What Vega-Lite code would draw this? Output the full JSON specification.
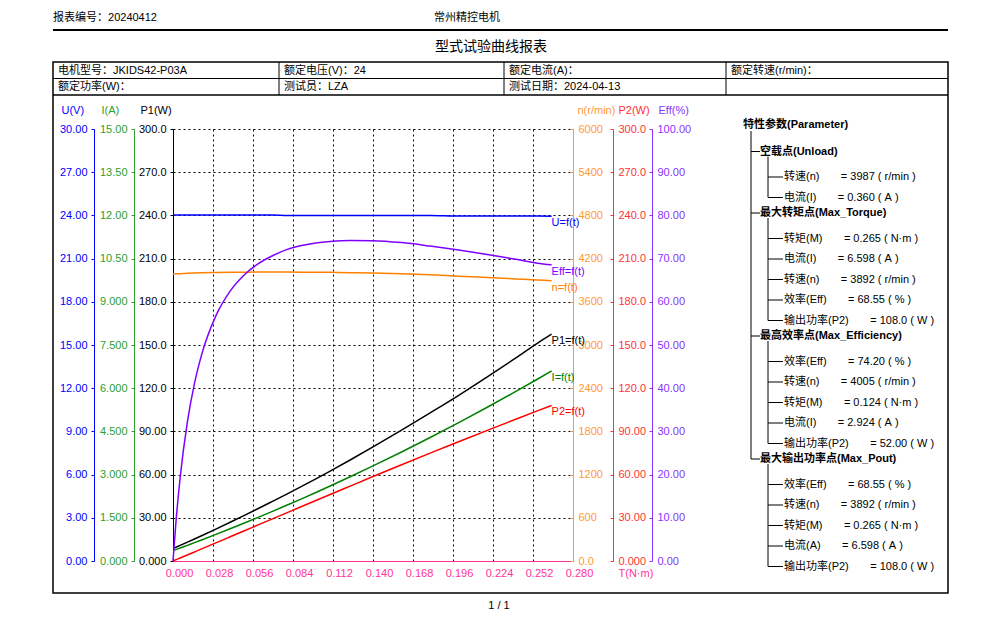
{
  "$schema": "https://vega.github.io/schema/vega-lite/v6.json",
  "width": 400,
  "height": 432,
  "autosize": {"type": "none"},
  "padding": {"left": 173, "top": 129, "right": 427, "bottom": 66},
  "background": "#ffffff",
  "config": {
    "view": {"stroke": null},
    "font": "'Liberation Sans', 'Noto Sans CJK SC', sans-serif",
    "axis": {"labelFont": "'Liberation Sans', 'Noto Sans CJK SC', sans-serif", "titleFont": "'Liberation Sans', 'Noto Sans CJK SC', sans-serif", "labelFontSize": 11, "titleFontSize": 11, "titleFontWeight": "normal", "labelOverlap": false, "labelFlush": false, "labelBound": false, "domainWidth": 1, "tickWidth": 1},
    "text": {"font": "'Liberation Sans', 'Noto Sans CJK SC', sans-serif", "fontSize": 11},
    "line": {"strokeWidth": 1.5, "interpolate": "monotone"}
  },
  "datasets": {
    "header": [
      {"slot": 1, "line": 1, "kind": "hdr", "text": "报表编号：20240412"},
      {"slot": 2, "line": 1, "kind": "hdr", "text": "常州精控电机"},
      {"slot": 3, "line": 2, "kind": "title", "text": "型式试验曲线报表"},
      {"slot": 4, "line": 3, "kind": "hdr", "text": "1 / 1"}
    ],
    "table": [
      {"row": 1, "col": 1, "text": "电机型号：JKIDS42-P03A"},
      {"row": 1, "col": 2, "text": "额定电压(V)：24"},
      {"row": 1, "col": 3, "text": "额定电流(A)："},
      {"row": 1, "col": 4, "text": "额定转速(r/min)："},
      {"row": 2, "col": 1, "text": "额定功率(W)："},
      {"row": 2, "col": 2, "text": "测试员：LZA"},
      {"row": 2, "col": 3, "text": "测试日期：2024-04-13"},
      {"row": 2, "col": 4, "text": ""}
    ],
    "tree": [
      {"idx": 0, "level": 0, "grp": "root", "text": "特性参数(Parameter)"},
      {"idx": 1, "level": 1, "grp": "g1", "text": "空载点(Unload)"},
      {"idx": 2, "level": 2, "grp": "g1", "text": "转速(n)\u00a0\u00a0\u00a0\u00a0\u00a0\u00a0\u00a0=\u00a03987\u00a0(\u00a0r/min\u00a0)"},
      {"idx": 3, "level": 2, "grp": "g1", "text": "电流(I)\u00a0\u00a0\u00a0\u00a0\u00a0\u00a0\u00a0=\u00a00.360\u00a0(\u00a0A\u00a0)"},
      {"idx": 4, "level": 1, "grp": "g2", "text": "最大转矩点(Max_Torque)"},
      {"idx": 5, "level": 2, "grp": "g2", "text": "转矩(M)\u00a0\u00a0\u00a0\u00a0\u00a0\u00a0\u00a0=\u00a00.265\u00a0(\u00a0N·m\u00a0)"},
      {"idx": 6, "level": 2, "grp": "g2", "text": "电流(I)\u00a0\u00a0\u00a0\u00a0\u00a0\u00a0\u00a0=\u00a06.598\u00a0(\u00a0A\u00a0)"},
      {"idx": 7, "level": 2, "grp": "g2", "text": "转速(n)\u00a0\u00a0\u00a0\u00a0\u00a0\u00a0\u00a0=\u00a03892\u00a0(\u00a0r/min\u00a0)"},
      {"idx": 8, "level": 2, "grp": "g2", "text": "效率(Eff)\u00a0\u00a0\u00a0\u00a0\u00a0\u00a0\u00a0=\u00a068.55\u00a0(\u00a0%\u00a0)"},
      {"idx": 9, "level": 2, "grp": "g2", "text": "输出功率(P2)\u00a0\u00a0\u00a0\u00a0\u00a0\u00a0\u00a0=\u00a0108.0\u00a0(\u00a0W\u00a0)"},
      {"idx": 10, "level": 1, "grp": "g3", "text": "最高效率点(Max_Efficiency)"},
      {"idx": 11, "level": 2, "grp": "g3", "text": "效率(Eff)\u00a0\u00a0\u00a0\u00a0\u00a0\u00a0\u00a0=\u00a074.20\u00a0(\u00a0%\u00a0)"},
      {"idx": 12, "level": 2, "grp": "g3", "text": "转速(n)\u00a0\u00a0\u00a0\u00a0\u00a0\u00a0\u00a0=\u00a04005\u00a0(\u00a0r/min\u00a0)"},
      {"idx": 13, "level": 2, "grp": "g3", "text": "转矩(M)\u00a0\u00a0\u00a0\u00a0\u00a0\u00a0\u00a0=\u00a00.124\u00a0(\u00a0N·m\u00a0)"},
      {"idx": 14, "level": 2, "grp": "g3", "text": "电流(I)\u00a0\u00a0\u00a0\u00a0\u00a0\u00a0\u00a0=\u00a02.924\u00a0(\u00a0A\u00a0)"},
      {"idx": 15, "level": 2, "grp": "g3", "text": "输出功率(P2)\u00a0\u00a0\u00a0\u00a0\u00a0\u00a0\u00a0=\u00a052.00\u00a0(\u00a0W\u00a0)"},
      {"idx": 16, "level": 1, "grp": "g4", "text": "最大输出功率点(Max_Pout)"},
      {"idx": 17, "level": 2, "grp": "g4", "text": "效率(Eff)\u00a0\u00a0\u00a0\u00a0\u00a0\u00a0\u00a0=\u00a068.55\u00a0(\u00a0%\u00a0)"},
      {"idx": 18, "level": 2, "grp": "g4", "text": "转速(n)\u00a0\u00a0\u00a0\u00a0\u00a0\u00a0\u00a0=\u00a03892\u00a0(\u00a0r/min\u00a0)"},
      {"idx": 19, "level": 2, "grp": "g4", "text": "转矩(M)\u00a0\u00a0\u00a0\u00a0\u00a0\u00a0\u00a0=\u00a00.265\u00a0(\u00a0N·m\u00a0)"},
      {"idx": 20, "level": 2, "grp": "g4", "text": "电流(A)\u00a0\u00a0\u00a0\u00a0\u00a0\u00a0\u00a0=\u00a06.598\u00a0(\u00a0A\u00a0)"},
      {"idx": 21, "level": 2, "grp": "g4", "text": "输出功率(P2)\u00a0\u00a0\u00a0\u00a0\u00a0\u00a0\u00a0=\u00a0108.0\u00a0(\u00a0W\u00a0)"}
    ],
    "curve": [
      {"T": 0, "U": 24.03, "I": 0.360, "P1": 8.65, "n": 3987, "P2": 0, "Eff": 0},
      {"T": 0.002, "U": 24.03, "I": 0.396, "P1": 9.52, "n": 3989, "P2": 0.835, "Eff": 8.77},
      {"T": 0.005, "U": 24.03, "I": 0.451, "P1": 10.84, "n": 3991, "P2": 2.09, "Eff": 19.28},
      {"T": 0.01, "U": 24.03, "I": 0.544, "P1": 13.07, "n": 3996, "P2": 4.185, "Eff": 32.02},
      {"T": 0.015, "U": 24.03, "I": 0.637, "P1": 15.31, "n": 4000, "P2": 6.283, "Eff": 41.04},
      {"T": 0.02, "U": 24.03, "I": 0.731, "P1": 17.57, "n": 4003, "P2": 8.384, "Eff": 47.72},
      {"T": 0.03, "U": 24.03, "I": 0.923, "P1": 22.18, "n": 4007, "P2": 12.59, "Eff": 56.75},
      {"T": 0.04, "U": 24.03, "I": 1.119, "P1": 26.89, "n": 4010, "P2": 16.8, "Eff": 62.47},
      {"T": 0.05, "U": 24.03, "I": 1.319, "P1": 31.7, "n": 4012, "P2": 21.01, "Eff": 66.27},
      {"T": 0.06, "U": 24.03, "I": 1.523, "P1": 36.6, "n": 4013, "P2": 25.22, "Eff": 68.89},
      {"T": 0.07, "U": 24.03, "I": 1.731, "P1": 41.6, "n": 4013, "P2": 29.42, "Eff": 70.71},
      {"T": 0.08, "U": 23.99, "I": 1.943, "P1": 46.61, "n": 4013, "P2": 33.62, "Eff": 72.13},
      {"T": 0.09, "U": 23.99, "I": 2.159, "P1": 51.79, "n": 4012, "P2": 37.81, "Eff": 73.01},
      {"T": 0.1, "U": 23.99, "I": 2.379, "P1": 57.07, "n": 4011, "P2": 42.0, "Eff": 73.6},
      {"T": 0.11, "U": 23.99, "I": 2.603, "P1": 62.45, "n": 4009, "P2": 46.18, "Eff": 73.95},
      {"T": 0.124, "U": 23.99, "I": 2.924, "P1": 70.15, "n": 4005, "P2": 52.0, "Eff": 74.2},
      {"T": 0.14, "U": 23.99, "I": 3.301, "P1": 79.19, "n": 4000, "P2": 58.64, "Eff": 74.15},
      {"T": 0.16, "U": 23.99, "I": 3.786, "P1": 90.83, "n": 3990, "P2": 66.85, "Eff": 73.7},
      {"T": 0.18, "U": 23.99, "I": 4.287, "P1": 102.85, "n": 3974, "P2": 74.91, "Eff": 72.9},
      {"T": 0.2, "U": 23.95, "I": 4.804, "P1": 115.06, "n": 3955, "P2": 82.83, "Eff": 71.99},
      {"T": 0.22, "U": 23.95, "I": 5.338, "P1": 127.85, "n": 3938, "P2": 90.73, "Eff": 70.96},
      {"T": 0.24, "U": 23.95, "I": 5.888, "P1": 141.02, "n": 3918, "P2": 98.47, "Eff": 69.83},
      {"T": 0.255, "U": 23.95, "I": 6.311, "P1": 151.15, "n": 3903, "P2": 104.22, "Eff": 68.95},
      {"T": 0.265, "U": 23.94, "I": 6.598, "P1": 157.5, "n": 3892, "P2": 108.0, "Eff": 68.55}
    ]
  },
  "resolve": {"scale": {"x": "independent", "y": "independent"}, "axis": {"x": "independent", "y": "independent"}},
  "layer": [
    {
      "data": {"name": "header"},
      "layer": [
        {
          "transform": [{"filter": "datum.kind == 'hdr'"}],
          "mark": {"type": "text", "fontSize": 11, "align": "center", "baseline": "middle", "color": "#000000"},
          "encoding": {
            "x": {"field": "slot", "type": "quantitative", "scale": {"domain": [0, 1, 2, 3, 4, 5], "range": [-120, -68, 294, 318, 326, 775], "nice": false, "zero": false}, "axis": null},
            "y": {"field": "line", "type": "quantitative", "scale": {"domain": [1, 2, 3], "range": [-111, -82, 477], "nice": false, "zero": false}, "axis": null},
            "text": {"field": "text"}
          }
        },
        {
          "transform": [{"filter": "datum.kind == 'title'"}],
          "mark": {"type": "text", "fontSize": 14, "align": "center", "baseline": "middle", "color": "#000000"},
          "encoding": {
            "x": {"field": "slot", "type": "quantitative", "scale": {"domain": [0, 1, 2, 3, 4, 5], "range": [-120, -68, 294, 318, 326, 775], "nice": false, "zero": false}, "axis": null},
            "y": {"field": "line", "type": "quantitative", "scale": {"domain": [1, 2, 3], "range": [-111, -82, 477], "nice": false, "zero": false}, "axis": null},
            "text": {"field": "text"}
          }
        },
        {
          "transform": [{"filter": "datum.kind == 'title'"}],
          "mark": {"type": "rule", "strokeWidth": 2, "color": "#000000"},
          "encoding": {
            "x": {"datum": 0, "type": "quantitative", "scale": {"domain": [0, 1, 2, 3, 4, 5], "range": [-120, -68, 294, 318, 326, 775], "nice": false, "zero": false}, "axis": null},
            "x2": {"datum": 5},
            "y": {"datum": 1.41, "type": "quantitative", "scale": {"domain": [1, 2, 3], "range": [-111, -82, 477], "nice": false, "zero": false}, "axis": null}
          }
        }
      ]
    },
    {
      "data": {"name": "table"},
      "layer": [
        {
          "transform": [{"filter": "datum.row == 1 && datum.col == 1"}],
          "mark": {"type": "rect", "fill": null, "fillOpacity": 0, "stroke": "#000000", "strokeWidth": 1.5},
          "encoding": {
            "x": {"datum": 1, "type": "quantitative", "scale": {"domain": [1, 2, 3, 4, 5], "range": [-120, 106, 331, 553, 775], "nice": false, "zero": false}, "axis": null},
            "x2": {"datum": 5},
            "y": {"datum": 1, "type": "quantitative", "scale": {"domain": [1, 2, 3, 4], "range": [-67, -50.5, -34, 464], "nice": false, "zero": false}, "axis": null},
            "y2": {"datum": 4}
          }
        },
        {
          "mark": {"type": "text", "align": "left", "baseline": "middle", "dx": 5, "dy": 8.5, "fontSize": 11, "color": "#000000"},
          "encoding": {
            "x": {"field": "col", "type": "quantitative", "scale": {"domain": [1, 2, 3, 4, 5], "range": [-120, 106, 331, 553, 775], "nice": false, "zero": false}, "axis": null},
            "y": {"field": "row", "type": "quantitative", "scale": {"domain": [1, 2, 3, 4], "range": [-67, -50.5, -34, 464], "nice": false, "zero": false}, "axis": null},
            "text": {"field": "text"}
          }
        },
        {
          "transform": [{"filter": "datum.row == 1 && datum.col > 1"}],
          "mark": {"type": "rule", "color": "#000000", "strokeWidth": 1},
          "encoding": {
            "x": {"field": "col", "type": "quantitative", "scale": {"domain": [1, 2, 3, 4, 5], "range": [-120, 106, 331, 553, 775], "nice": false, "zero": false}, "axis": null},
            "y": {"datum": 1, "type": "quantitative", "scale": {"domain": [1, 2, 3, 4], "range": [-67, -50.5, -34, 464], "nice": false, "zero": false}, "axis": null},
            "y2": {"datum": 3}
          }
        },
        {
          "transform": [{"filter": "datum.row == 1 && datum.col == 1"}],
          "mark": {"type": "rule", "color": "#000000", "strokeWidth": 1},
          "encoding": {
            "x": {"datum": 1, "type": "quantitative", "scale": {"domain": [1, 2, 3, 4, 5], "range": [-120, 106, 331, 553, 775], "nice": false, "zero": false}, "axis": null},
            "x2": {"datum": 5},
            "y": {"datum": 2, "type": "quantitative", "scale": {"domain": [1, 2, 3, 4], "range": [-67, -50.5, -34, 464], "nice": false, "zero": false}, "axis": null}
          }
        },
        {
          "transform": [{"filter": "datum.row == 1 && datum.col == 1"}],
          "mark": {"type": "rule", "color": "#000000", "strokeWidth": 1.5},
          "encoding": {
            "x": {"datum": 1, "type": "quantitative", "scale": {"domain": [1, 2, 3, 4, 5], "range": [-120, 106, 331, 553, 775], "nice": false, "zero": false}, "axis": null},
            "x2": {"datum": 5},
            "y": {"datum": 3, "type": "quantitative", "scale": {"domain": [1, 2, 3, 4], "range": [-67, -50.5, -34, 464], "nice": false, "zero": false}, "axis": null}
          }
        }
      ]
    },
    {
      "data": {"name": "tree"},
      "layer": [
        {
          "transform": [{"filter": "datum.level == 2"}],
          "mark": {"type": "text", "align": "left", "baseline": "middle", "dx": 1, "fontSize": 11, "color": "#000000"},
          "encoding": {
            "x": {"field": "level", "type": "quantitative", "scale": {"domain": [0, 0.5, 1, 1.5, 2], "range": [570, 578, 587, 595, 610], "nice": false, "zero": false}, "axis": null},
            "y": {"field": "idx", "type": "quantitative", "scale": {"domain": [0, 21], "range": [7, 437.5], "nice": false, "zero": false}, "axis": null},
            "text": {"field": "text"}
          }
        },
        {
          "transform": [{"filter": "datum.level == 2"}],
          "mark": {"type": "rule", "color": "#000000", "strokeWidth": 1},
          "encoding": {
            "x": {"datum": 1.5, "type": "quantitative", "scale": {"domain": [0, 0.5, 1, 1.5, 2], "range": [570, 578, 587, 595, 610], "nice": false, "zero": false}, "axis": null},
            "x2": {"datum": 2},
            "y": {"field": "idx", "type": "quantitative", "scale": {"domain": [0, 21], "range": [7, 437.5], "nice": false, "zero": false}, "axis": null}
          }
        },
        {
          "transform": [
            {"filter": "datum.level >= 1"},
            {"aggregate": [{"op": "min", "field": "idx", "as": "i0"}, {"op": "max", "field": "idx", "as": "i1"}], "groupby": ["grp"]}
          ],
          "mark": {"type": "rule", "color": "#000000", "strokeWidth": 1},
          "encoding": {
            "x": {"datum": 1.5, "type": "quantitative", "scale": {"domain": [0, 0.5, 1, 1.5, 2], "range": [570, 578, 587, 595, 610], "nice": false, "zero": false}, "axis": null},
            "y": {"field": "i0", "type": "quantitative", "scale": {"domain": [0, 21], "range": [7, 437.5], "nice": false, "zero": false}, "axis": null},
            "y2": {"field": "i1"}
          }
        }
      ]
    },
    {
      "data": {"name": "tree"},
      "layer": [
        {
          "transform": [{"filter": "datum.level == 1"}],
          "mark": {"type": "text", "align": "left", "baseline": "middle", "fontSize": 11, "fontWeight": "bold", "color": "#000000"},
          "encoding": {
            "x": {"field": "level", "type": "quantitative", "scale": {"domain": [0, 0.5, 1, 1.5, 2], "range": [570, 578, 587, 595, 610], "nice": false, "zero": false}, "axis": null},
            "y": {"field": "idx", "type": "quantitative", "scale": {"domain": [0, 21], "range": [2, 432.5], "nice": false, "zero": false}, "axis": null},
            "text": {"field": "text"}
          }
        },
        {
          "transform": [{"filter": "datum.level == 0"}],
          "mark": {"type": "text", "align": "left", "baseline": "middle", "dy": -6, "fontSize": 11, "fontWeight": "bold", "color": "#000000"},
          "encoding": {
            "x": {"field": "level", "type": "quantitative", "scale": {"domain": [0, 0.5, 1, 1.5, 2], "range": [570, 578, 587, 595, 610], "nice": false, "zero": false}, "axis": null},
            "y": {"field": "idx", "type": "quantitative", "scale": {"domain": [0, 21], "range": [2, 432.5], "nice": false, "zero": false}, "axis": null},
            "text": {"field": "text"}
          }
        },
        {
          "transform": [{"filter": "datum.level == 1"}],
          "mark": {"type": "rule", "color": "#000000", "strokeWidth": 1},
          "encoding": {
            "x": {"datum": 0.5, "type": "quantitative", "scale": {"domain": [0, 0.5, 1, 1.5, 2], "range": [570, 578, 587, 595, 610], "nice": false, "zero": false}, "axis": null},
            "x2": {"datum": 1},
            "y": {"field": "idx", "type": "quantitative", "scale": {"domain": [0, 21], "range": [2, 432.5], "nice": false, "zero": false}, "axis": null}
          }
        },
        {
          "transform": [
            {"filter": "datum.level <= 1"},
            {"aggregate": [{"op": "min", "field": "idx", "as": "i0"}, {"op": "max", "field": "idx", "as": "i1"}]}
          ],
          "mark": {"type": "rule", "color": "#000000", "strokeWidth": 1},
          "encoding": {
            "x": {"datum": 0.5, "type": "quantitative", "scale": {"domain": [0, 0.5, 1, 1.5, 2], "range": [570, 578, 587, 595, 610], "nice": false, "zero": false}, "axis": null},
            "y": {"field": "i0", "type": "quantitative", "scale": {"domain": [0, 21], "range": [2, 432.5], "nice": false, "zero": false}, "axis": null},
            "y2": {"field": "i1"}
          }
        }
      ]
    },
    {
      "data": {"name": "curve"},
      "encoding": {
        "x": {"field": "T", "type": "quantitative", "scale": {"domain": [0, 0.28], "nice": false, "zero": false}, "axis": null},
        "y": {"field": "U", "type": "quantitative", "scale": {"domain": [0, 30], "nice": false, "zero": false},
          "axis": {"orient": "left", "offset": 79, "values": [0, 3, 6, 9, 12, 15, 18, 21, 24, 27, 30], "format": ".2f", "grid": false, "domainColor": "#0000FF", "tickColor": "#0000FF", "labelColor": "#0000FF", "tickSize": 3, "labelPadding": 4, "title": "U(V)", "titleColor": "#0000FF", "titleAngle": 0, "titleAlign": "left", "titleBaseline": "middle", "titleX": -33, "titleY": -19}}
      },
      "layer": [
        {"mark": {"type": "line", "color": "#0000FF", "strokeWidth": 1.5}},
        {"transform": [{"filter": "datum.T == 0.265"}], "mark": {"type": "text", "color": "#0000FF", "align": "left", "baseline": "middle", "dy": 7, "fontSize": 11}, "encoding": {"text": {"value": "U=f(t)"}}}
      ]
    },
    {
      "data": {"name": "curve"},
      "encoding": {
        "x": {"field": "T", "type": "quantitative", "scale": {"domain": [0, 0.28], "nice": false, "zero": false}, "axis": null},
        "y": {"field": "I", "type": "quantitative", "scale": {"domain": [0, 15], "nice": false, "zero": false},
          "axis": {"orient": "left", "offset": 39, "values": [0, 1.5, 3, 4.5, 6, 7.5, 9, 10.5, 12, 13.5, 15], "labelExpr": "datum.value == 0 ? '0.000' : format(datum.value, '.4r')", "grid": false, "domainColor": "#2E9E2E", "tickColor": "#2E9E2E", "labelColor": "#2E9E2E", "tickSize": 3, "labelPadding": 4, "title": "I(A)", "titleColor": "#2E9E2E", "titleAngle": 0, "titleAlign": "left", "titleBaseline": "middle", "titleX": -33, "titleY": -19}}
      },
      "layer": [
        {"mark": {"type": "line", "color": "#008000", "strokeWidth": 1.5}},
        {"transform": [{"filter": "datum.T == 0.265"}], "mark": {"type": "text", "color": "#008000", "align": "left", "baseline": "middle", "dy": 7, "fontSize": 11}, "encoding": {"text": {"value": "I=f(t)"}}}
      ]
    },
    {
      "data": {"name": "curve"},
      "encoding": {
        "x": {"field": "T", "type": "quantitative", "scale": {"domain": [0, 0.28], "nice": false, "zero": false},
          "axis": {"orient": "bottom", "grid": true, "gridColor": "#000000", "gridDash": [2, 3], "gridWidth": 1, "labels": false, "ticks": false, "domain": false, "title": null, "values": [0.028, 0.056, 0.084, 0.112, 0.14, 0.168, 0.196, 0.224, 0.252]}},
        "y": {"field": "P1", "type": "quantitative", "scale": {"domain": [0, 300], "nice": false, "zero": false},
          "axis": {"orient": "left", "offset": 0, "values": [0, 30, 60, 90, 120, 150, 180, 210, 240, 270, 300], "labelExpr": "datum.value == 0 ? '0.000' : format(datum.value, '.4r')", "grid": true, "gridColor": "#000000", "gridDash": [2, 3], "gridWidth": 1, "gridOpacity": {"condition": {"test": "datum.value == 0", "value": 0}, "value": 1}, "domainColor": "#000000", "tickColor": "#000000", "labelColor": "#000000", "tickSize": 3, "labelPadding": 4, "title": "P1(W)", "titleColor": "#000000", "titleAngle": 0, "titleAlign": "left", "titleBaseline": "middle", "titleX": -33, "titleY": -19}}
      },
      "layer": [
        {"mark": {"type": "line", "color": "#000000", "strokeWidth": 1.5}},
        {"transform": [{"filter": "datum.T == 0.265"}], "mark": {"type": "text", "color": "#000000", "align": "left", "baseline": "middle", "dy": 7, "fontSize": 11}, "encoding": {"text": {"value": "P1=f(t)"}}}
      ]
    },
    {
      "data": {"name": "curve"},
      "encoding": {
        "x": {"field": "T", "type": "quantitative", "scale": {"domain": [0, 0.28], "nice": false, "zero": false}, "axis": null},
        "y": {"field": "n", "type": "quantitative", "scale": {"domain": [0, 6000], "nice": false, "zero": false},
          "axis": {"orient": "right", "offset": 0, "values": [0, 600, 1200, 1800, 2400, 3000, 3600, 4200, 4800, 5400, 6000], "labelExpr": "datum.value == 0 ? '0.0' : format(datum.value, 'd')", "grid": false, "domainColor": "#FF9933", "tickColor": "#FF9933", "labelColor": "#FF9933", "tickSize": -3, "labelPadding": 8, "title": "n(r/min)", "titleColor": "#FF9933", "titleAngle": 0, "titleAlign": "left", "titleBaseline": "middle", "titleX": 4, "titleY": -19}}
      },
      "layer": [
        {"mark": {"type": "line", "color": "#FF8000", "strokeWidth": 1.5}},
        {"transform": [{"filter": "datum.T == 0.265"}], "mark": {"type": "text", "color": "#FF8000", "align": "left", "baseline": "middle", "dy": 7, "fontSize": 11}, "encoding": {"text": {"value": "n=f(t)"}}}
      ]
    },
    {
      "data": {"name": "curve"},
      "encoding": {
        "x": {"field": "T", "type": "quantitative", "scale": {"domain": [0, 0.28], "nice": false, "zero": false}, "axis": null},
        "y": {"field": "P2", "type": "quantitative", "scale": {"domain": [0, 300], "nice": false, "zero": false},
          "axis": {"orient": "right", "offset": 40, "values": [0, 30, 60, 90, 120, 150, 180, 210, 240, 270, 300], "labelExpr": "datum.value == 0 ? '0.000' : format(datum.value, '.4r')", "grid": false, "domainColor": "#FF3333", "tickColor": "#FF3333", "labelColor": "#FF3333", "tickSize": -3, "labelPadding": 8, "title": "P2(W)", "titleColor": "#FF3333", "titleAngle": 0, "titleAlign": "left", "titleBaseline": "middle", "titleX": 5, "titleY": -19}}
      },
      "layer": [
        {"mark": {"type": "line", "color": "#FF0000", "strokeWidth": 1.5}},
        {"transform": [{"filter": "datum.T == 0.265"}], "mark": {"type": "text", "color": "#FF0000", "align": "left", "baseline": "middle", "dy": 7, "fontSize": 11}, "encoding": {"text": {"value": "P2=f(t)"}}}
      ]
    },
    {
      "data": {"name": "curve"},
      "encoding": {
        "x": {"field": "T", "type": "quantitative", "scale": {"domain": [0, 0.28], "nice": false, "zero": false},
          "axis": {"orient": "bottom", "offset": 0, "values": [0, 0.028, 0.056, 0.084, 0.112, 0.14, 0.168, 0.196, 0.224, 0.252, 0.28], "format": ".3f", "grid": false, "ticks": false, "tickSize": 0, "domainColor": "#FF3399", "labelColor": "#FF3399", "labelPadding": 6, "labelOffset": 6, "title": "T(N·m)", "titleColor": "#FF3399", "titleAngle": 0, "titleAlign": "left", "titleBaseline": "middle", "titleX": 445, "titleY": 12}},
        "y": {"field": "Eff", "type": "quantitative", "scale": {"domain": [0, 100], "nice": false, "zero": false},
          "axis": {"orient": "right", "offset": 79, "values": [0, 10, 20, 30, 40, 50, 60, 70, 80, 90, 100], "format": ".2f", "grid": false, "domainColor": "#8833FF", "tickColor": "#8833FF", "labelColor": "#8833FF", "tickSize": -3, "labelPadding": 8, "title": "Eff(%)", "titleColor": "#8833FF", "titleAngle": 0, "titleAlign": "left", "titleBaseline": "middle", "titleX": 6, "titleY": -19}}
      },
      "layer": [
        {"mark": {"type": "line", "color": "#8000FF", "strokeWidth": 1.5}},
        {"transform": [{"filter": "datum.T == 0.265"}], "mark": {"type": "text", "color": "#8000FF", "align": "left", "baseline": "middle", "dy": 7, "fontSize": 11}, "encoding": {"text": {"value": "Eff=f(t)"}}}
      ]
    }
  ]
}
